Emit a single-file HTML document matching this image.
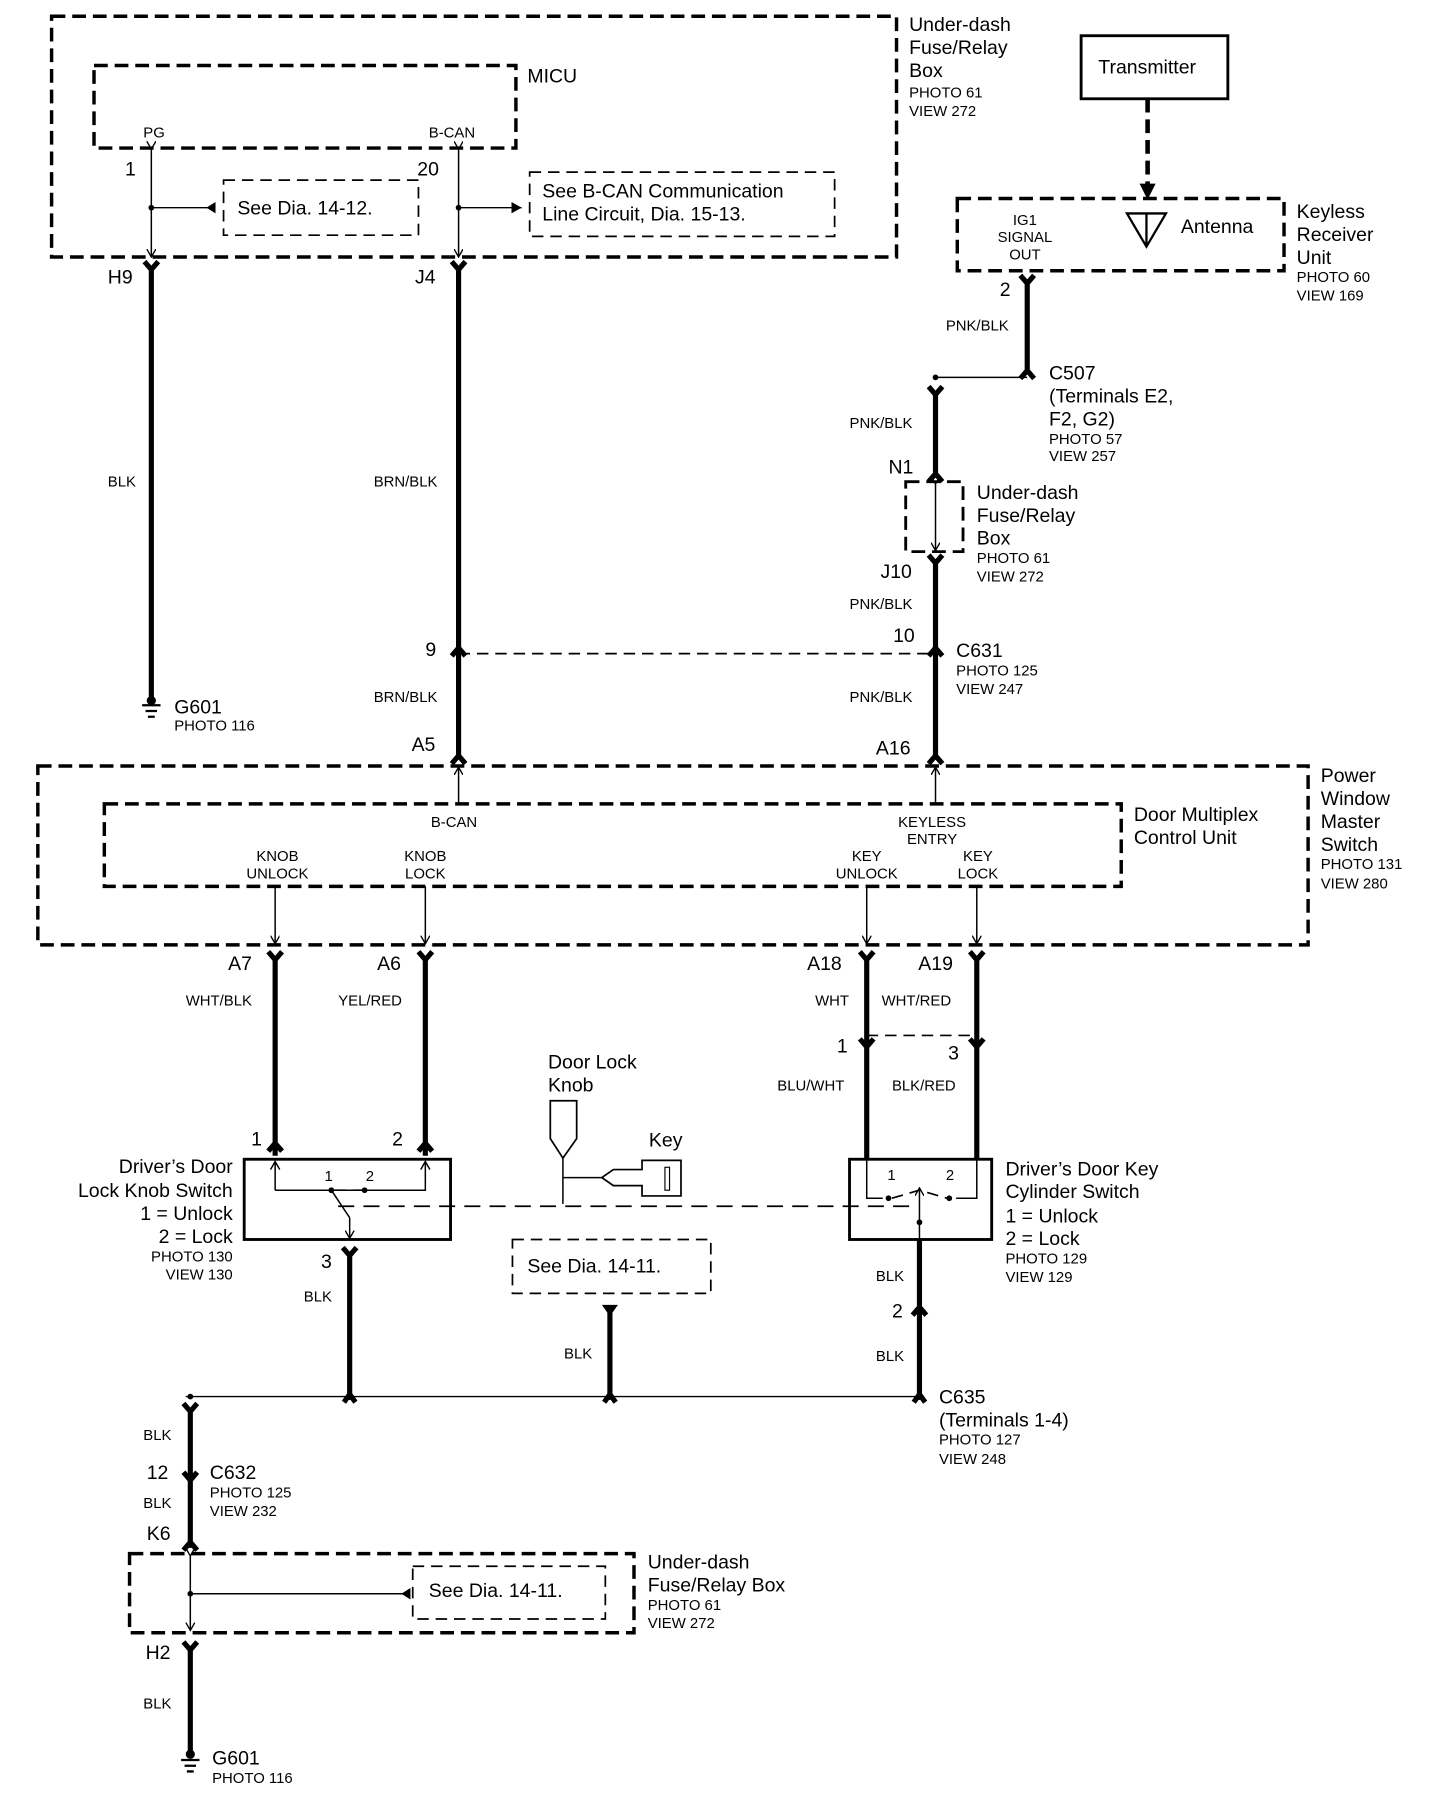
<!DOCTYPE html>
<html><head><meta charset="utf-8"><style>
html,body{margin:0;padding:0;background:#fff}
svg{display:block}
text{font-family:"Liberation Sans",sans-serif;fill:#000}
.b{font-size:17px}.s{font-size:13px}
.d{fill:none;stroke:#000;stroke-width:3;stroke-dasharray:12 6}
.dt{fill:none;stroke:#000;stroke-width:1.5;stroke-dasharray:10 6}
.t{stroke:#000;stroke-width:1.3;fill:none}
.w{stroke:#000;stroke-width:4.5;fill:none}
</style></head><body>
<svg width="1456" height="1798" viewBox="0 0 1270 1568" xmlns="http://www.w3.org/2000/svg">
<defs>
<marker id="a" markerWidth="8" markerHeight="8" refX="7" refY="4" orient="auto" markerUnits="userSpaceOnUse"><path d="M0,0 L7,4 L0,8" fill="none" stroke="#000" stroke-width="1.2"/></marker>
<marker id="af" markerWidth="10" markerHeight="10" refX="9" refY="5" orient="auto" markerUnits="userSpaceOnUse"><path d="M0,0 L9,5 L0,10Z" fill="#000"/></marker>
</defs>
<!-- top fuse box -->
<rect class="d" x="45" y="14" width="737" height="210"/>
<text class="b" x="793" y="27">Under-dash</text><text class="b" x="793" y="47">Fuse/Relay</text><text class="b" x="793" y="67">Box</text>
<text class="s" x="793" y="85">PHOTO 61</text><text class="s" x="793" y="101">VIEW 272</text>
<rect class="d" x="82" y="57" width="368" height="72"/>
<text class="b" x="460" y="72">MICU</text>
<text class="s" x="125" y="120">PG</text><text class="s" x="374" y="120">B-CAN</text>
<line class="t" x1="132" y1="130" x2="132" y2="224" marker-start="url(#a)" marker-end="url(#a)"/>
<text class="b" x="109" y="153">1</text>
<circle cx="132" cy="181" r="2.5"/>
<line class="t" x1="132" y1="181" x2="186" y2="181"/><path d="M188,176 L180,181 L188,186Z"/>
<path class="dt" d="M195,157 H365 V205 H195 Z"/>
<text class="b" x="207" y="187">See Dia. 14-12.</text>
<line class="t" x1="400" y1="130" x2="400" y2="224" marker-start="url(#a)" marker-end="url(#a)"/>
<text class="b" x="364" y="153">20</text>
<circle cx="400" cy="181" r="2.5"/>
<line class="t" x1="400" y1="181" x2="455" y2="181" marker-end="url(#af)"/>
<path class="dt" d="M462,150 H728 V206 H462 Z"/>
<text class="b" x="473" y="172">See B-CAN Communication</text><text class="b" x="473" y="192">Line Circuit, Dia. 15-13.</text>
<!-- H9 -->
<path class="w" d="M126,228 L132,235 L138,228 M132,234 V608"/>
<text class="b" x="94" y="247">H9</text>
<text class="s" x="94" y="424">BLK</text>
<path d="M124,615 h16 M127,620 h10 M129,625 h6" stroke="#000" stroke-width="2"/><circle cx="132" cy="611" r="4"/>
<text class="b" x="152" y="622">G601</text><text class="s" x="152" y="637">PHOTO 116</text>
<!-- J4 -->
<path class="w" d="M394,228 L400,235 L406,228 M400,234 V660"/>
<text class="b" x="362" y="247">J4</text>
<text class="s" x="326" y="424">BRN/BLK</text>
<path class="w" d="M394,572 L400,565 L406,572" />
<text class="b" x="371" y="572">9</text>
<line class="dt" x1="400" y1="570" x2="816" y2="570"/>
<text class="s" x="326" y="612">BRN/BLK</text>
<text class="b" x="359" y="655">A5</text>
<path class="w" d="M394,666 L400,659 L406,666"/>
<!-- transmitter -->
<rect x="943" y="31" width="128" height="55" fill="none" stroke="#000" stroke-width="2.5"/>
<text class="b" x="958" y="64">Transmitter</text>
<line x1="1001" y1="86" x2="1001" y2="162" stroke="#000" stroke-width="4" stroke-dasharray="12 6"/>
<path d="M994,160 L1001,174 L1008,160Z"/>
<rect class="d" x="835" y="173" width="285" height="63"/>
<text class="s" x="894" y="196" text-anchor="middle">IG1</text><text class="s" x="894" y="211" text-anchor="middle">SIGNAL</text><text class="s" x="894" y="226" text-anchor="middle">OUT</text>
<path d="M983,186 H1017 L1000,215 Z M1000,186 V215" fill="none" stroke="#000" stroke-width="2"/>
<text class="b" x="1030" y="203">Antenna</text>
<text class="b" x="1131" y="190">Keyless</text><text class="b" x="1131" y="210">Receiver</text><text class="b" x="1131" y="230">Unit</text>
<text class="s" x="1131" y="246">PHOTO 60</text><text class="s" x="1131" y="262">VIEW 169</text>
<path class="w" d="M890,240 L896,247 L902,240 M896,246 V322"/>
<text class="b" x="872" y="258">2</text>
<text class="s" x="825" y="288">PNK/BLK</text>
<path class="w" d="M890,330 L896,323 L902,330"/>
<line class="t" x1="816" y1="329" x2="896" y2="329"/><circle cx="816" cy="329" r="2.5"/>
<text class="b" x="915" y="331">C507</text><text class="b" x="915" y="351">(Terminals E2,</text><text class="b" x="915" y="371">F2, G2)</text>
<text class="s" x="915" y="387">PHOTO 57</text><text class="s" x="915" y="402">VIEW 257</text>
<path class="w" d="M810,337 L816,344 L822,337 M816,343 V412"/>
<text class="s" x="741" y="373">PNK/BLK</text>
<text class="b" x="775" y="413">N1</text>
<path class="w" d="M810,420 L816,413 L822,420"/>
<path class="d" d="M790,420 H840 V481 H790 Z" style="stroke-width:2.5"/>
<line class="t" x1="816" y1="422" x2="816" y2="480" marker-start="url(#a)" marker-end="url(#a)"/>
<text class="b" x="852" y="435">Under-dash</text><text class="b" x="852" y="455">Fuse/Relay</text><text class="b" x="852" y="475">Box</text>
<text class="s" x="852" y="491">PHOTO 61</text><text class="s" x="852" y="507">VIEW 272</text>
<path class="w" d="M810,484 L816,491 L822,484 M816,490 V660"/>
<text class="b" x="768" y="504">J10</text>
<text class="s" x="741" y="531">PNK/BLK</text>
<text class="b" x="779" y="560">10</text>
<path class="w" d="M810,572 L816,565 L822,572"/>
<text class="b" x="834" y="573">C631</text><text class="s" x="834" y="589">PHOTO 125</text><text class="s" x="834" y="605">VIEW 247</text>
<text class="s" x="741" y="612">PNK/BLK</text>
<text class="b" x="764" y="658">A16</text>
<path class="w" d="M810,666 L816,659 L822,666"/>
<!-- power window -->
<rect class="d" x="33" y="668" width="1108" height="156"/>
<text class="b" x="1152" y="682">Power</text><text class="b" x="1152" y="702">Window</text><text class="b" x="1152" y="722">Master</text><text class="b" x="1152" y="742">Switch</text>
<text class="s" x="1152" y="758">PHOTO 131</text><text class="s" x="1152" y="775">VIEW 280</text>
<rect class="d" x="91" y="701" width="887" height="72"/>
<text class="b" x="989" y="716">Door Multiplex</text><text class="b" x="989" y="736">Control Unit</text>
<text class="s" x="396" y="721" text-anchor="middle">B-CAN</text>
<text class="s" x="813" y="721" text-anchor="middle">KEYLESS</text><text class="s" x="813" y="736" text-anchor="middle">ENTRY</text>
<text class="s" x="242" y="751" text-anchor="middle">KNOB</text><text class="s" x="242" y="766" text-anchor="middle">UNLOCK</text>
<text class="s" x="371" y="751" text-anchor="middle">KNOB</text><text class="s" x="371" y="766" text-anchor="middle">LOCK</text>
<text class="s" x="756" y="751" text-anchor="middle">KEY</text><text class="s" x="756" y="766" text-anchor="middle">UNLOCK</text>
<text class="s" x="853" y="751" text-anchor="middle">KEY</text><text class="s" x="853" y="766" text-anchor="middle">LOCK</text>
<line class="t" x1="400" y1="701" x2="400" y2="669" marker-end="url(#a)"/>
<line class="t" x1="816" y1="701" x2="816" y2="669" marker-end="url(#a)"/>
<line class="t" x1="240" y1="773" x2="240" y2="823" marker-end="url(#a)"/>
<line class="t" x1="371" y1="773" x2="371" y2="823" marker-end="url(#a)"/>
<line class="t" x1="756" y1="773" x2="756" y2="823" marker-end="url(#a)"/>
<line class="t" x1="852" y1="773" x2="852" y2="823" marker-end="url(#a)"/>
<!-- lower wires -->
<path class="w" d="M234,830 L240,837 L246,830 M240,836 V1008 M234,1004 L240,997 L246,1004"/>
<path class="w" d="M365,830 L371,837 L377,830 M371,836 V1008 M365,1004 L371,997 L377,1004"/>
<path class="w" d="M750,830 L756,837 L762,830 M756,836 V1011 M750,906 L756,913 L762,906"/>
<path class="w" d="M846,830 L852,837 L858,830 M852,836 V1011 M846,906 L852,913 L858,906"/>
<text class="b" x="199" y="846">A7</text><text class="b" x="329" y="846">A6</text><text class="b" x="704" y="846">A18</text><text class="b" x="801" y="846">A19</text>
<text class="s" x="162" y="877">WHT/BLK</text><text class="s" x="295" y="877">YEL/RED</text><text class="s" x="711" y="877">WHT</text><text class="s" x="769" y="877">WHT/RED</text>
<line class="dt" x1="756" y1="903" x2="852" y2="903"/>
<text class="b" x="730" y="918">1</text><text class="b" x="827" y="924">3</text>
<text class="s" x="678" y="951">BLU/WHT</text><text class="s" x="778" y="951">BLK/RED</text>
<text class="b" x="219" y="999">1</text><text class="b" x="342" y="999">2</text>
<!-- lock knob switch -->
<rect x="213" y="1011" width="180" height="70" fill="none" stroke="#000" stroke-width="2.5"/>
<path class="t" d="M240,1038 V1013 M240,1038 H371 V1013"/>
<path d="M236,1020 L240,1013 L244,1020 M367,1020 L371,1013 L375,1020" class="t"/>
<text class="s" x="283" y="1030">1</text><text class="s" x="319" y="1030">2</text>
<circle cx="289" cy="1038" r="2.5"/><circle cx="318" cy="1038" r="2.5"/>
<line class="dt" x1="292" y1="1038" x2="316" y2="1038"/>
<line class="t" x1="289" y1="1038" x2="305" y2="1062"/><line class="t" x1="305" y1="1062" x2="305" y2="1080" marker-end="url(#a)"/>
<text class="b" x="203" y="1023" text-anchor="end">Driver’s Door</text><text class="b" x="203" y="1044" text-anchor="end">Lock Knob Switch</text>
<text class="b" x="203" y="1064" text-anchor="end">1 = Unlock</text><text class="b" x="203" y="1084" text-anchor="end">2 = Lock</text>
<text class="s" x="203" y="1100" text-anchor="end">PHOTO 130</text><text class="s" x="203" y="1116" text-anchor="end">VIEW 130</text>
<path class="w" d="M299,1088 L305,1095 L311,1088 M305,1094 V1218"/>
<text class="b" x="280" y="1106">3</text><text class="s" x="265" y="1135">BLK</text>
<!-- knob/key -->
<text class="b" x="478" y="932">Door Lock</text><text class="b" x="478" y="952">Knob</text>
<path d="M480,960 H503 V993 L491,1010 L480,993 Z" fill="none" stroke="#000" stroke-width="1.5"/>
<line class="t" x1="491" y1="1010" x2="491" y2="1050"/>
<line class="t" x1="491" y1="1027" x2="525" y2="1027"/>
<path d="M525,1027 L535,1020 H560 V1012 H594 V1043 H560 V1034 H535 Z" fill="none" stroke="#000" stroke-width="1.5"/>
<rect x="580" y="1018" width="4" height="20" fill="none" stroke="#000"/>
<text class="b" x="566" y="1000">Key</text>
<line x1="295" y1="1052" x2="800" y2="1052" stroke="#000" stroke-width="1.5" stroke-dasharray="14 8"/>
<!-- key cyl switch -->
<rect x="741" y="1011" width="124" height="70" fill="none" stroke="#000" stroke-width="2.5"/>
<path class="t" d="M756,1011 V1045 H770 M852,1011 V1045 H834"/>
<text class="s" x="774" y="1029">1</text><text class="s" x="825" y="1029">2</text>
<circle cx="775" cy="1045" r="2.5"/><circle cx="828" cy="1045" r="2.5"/>
<path class="dt" d="M778,1045 L802,1038 L826,1045"/>
<line class="t" x1="802" y1="1066" x2="802" y2="1036" marker-end="url(#a)"/><circle cx="802" cy="1066" r="2.5"/>
<line class="t" x1="802" y1="1066" x2="802" y2="1081"/>
<text class="b" x="877" y="1025">Driver’s Door Key</text><text class="b" x="877" y="1045">Cylinder Switch</text>
<text class="b" x="877" y="1066">1 = Unlock</text><text class="b" x="877" y="1086">2 = Lock</text>
<text class="s" x="877" y="1102">PHOTO 129</text><text class="s" x="877" y="1118">VIEW 129</text>
<path class="w" d="M802,1081 V1218 M796,1147 L802,1140 L808,1147"/>
<text class="s" x="764" y="1117">BLK</text><text class="b" x="778" y="1149">2</text><text class="s" x="764" y="1187">BLK</text>
<path class="dt" d="M447,1081 H620 V1128 H447 Z"/>
<text class="b" x="460" y="1110">See Dia. 14-11.</text>
<path d="M525,1138 H539 L532,1148 Z"/><line class="w" x1="532" y1="1140" x2="532" y2="1218"/>
<text class="s" x="492" y="1185">BLK</text>
<!-- bus -->
<line class="t" x1="162" y1="1218" x2="802" y2="1218"/>
<circle cx="305" cy="1218" r="3"/><circle cx="532" cy="1218" r="3"/><circle cx="802" cy="1218" r="3"/><circle cx="166" cy="1218" r="2.5"/>
<path class="w" d="M300,1223 L305,1216 L310,1223 M527,1223 L532,1216 L537,1223 M797,1223 L802,1216 L807,1223"/>
<text class="b" x="819" y="1224">C635</text><text class="b" x="819" y="1244">(Terminals 1-4)</text>
<text class="s" x="819" y="1260">PHOTO 127</text><text class="s" x="819" y="1277">VIEW 248</text>
<path class="w" d="M160,1224 L166,1231 L172,1224 M166,1230 V1350 M160,1284 L166,1291 L172,1284 M160,1352 L166,1345 L172,1352"/>
<text class="s" x="125" y="1256">BLK</text>
<text class="b" x="128" y="1290">12</text><text class="b" x="183" y="1290">C632</text>
<text class="s" x="183" y="1306">PHOTO 125</text><text class="s" x="183" y="1322">VIEW 232</text>
<text class="s" x="125" y="1315">BLK</text><text class="b" x="128" y="1343">K6</text>
<rect class="d" x="113" y="1355" width="440" height="69"/>
<line class="t" x1="166" y1="1357" x2="166" y2="1422" marker-start="url(#a)" marker-end="url(#a)"/>
<circle cx="166" cy="1390" r="2.5"/><line class="t" x1="166" y1="1390" x2="352" y2="1390"/><path d="M358,1385 L350,1390 L358,1395Z"/>
<path class="dt" d="M360,1366 H528 V1412 H360 Z"/>
<text class="b" x="374" y="1393">See Dia. 14-11.</text>
<text class="b" x="565" y="1368">Under-dash</text><text class="b" x="565" y="1388">Fuse/Relay Box</text>
<text class="s" x="565" y="1404">PHOTO 61</text><text class="s" x="565" y="1420">VIEW 272</text>
<text class="b" x="127" y="1447">H2</text>
<path class="w" d="M160,1432 L166,1439 L172,1432 M166,1438 V1528"/>
<text class="s" x="125" y="1490">BLK</text>
<circle cx="166" cy="1530" r="4"/><path d="M158,1535 h16 M161,1540 h10 M163,1545 h6" stroke="#000" stroke-width="2"/>
<text class="b" x="185" y="1539">G601</text><text class="s" x="185" y="1555">PHOTO 116</text>
</svg>
</body></html>
